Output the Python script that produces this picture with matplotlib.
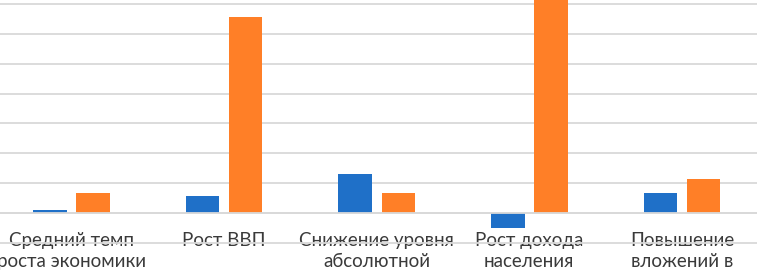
import numpy as np
import matplotlib
matplotlib.use('Agg')
import matplotlib.pyplot as plt

plt.rcParams['font.family'] = ['Lato', 'DejaVu Sans']

# categories (labels are cut by the crop at the bottom)
categories = ['Средний темп\nроста экономики', 'Рост ВВП',
              'Снижение уровня\nабсолютной', 'Рост дохода\nнаселения',
              'Повышение\nвложений в']
blue_vals = [0.09, 0.56, 1.30, -0.50, 0.65]
orange_vals = [0.65, 6.58, 0.68, 7.40, 1.15]

blue = '#1f70c8'
orange = '#ff7f27'
grid_col = '#d9d9d9'

x = np.arange(len(categories))
w = 0.22
off = 0.1415

fig = plt.figure(figsize=(7.57, 2.73), dpi=100)
ax = fig.add_axes([0, 0, 1, 1])

ax.bar(x - off, blue_vals, w, color=blue, zorder=2)
ax.bar(x + off, orange_vals, w, color=orange, zorder=2)

ax.set_xlim(-0.4685, 4.492)
ax.set_ylim(-2.02, 7.14)
ax.set_yticks(range(-1, 8))
ax.yaxis.grid(True, color=grid_col, lw=1.3)
ax.set_axisbelow(True)
ax.tick_params(axis='y', left=False, labelleft=False)

for s in ['left', 'right', 'top']:
    ax.spines[s].set_visible(False)
ax.spines['bottom'].set_position(('data', 0))
ax.spines['bottom'].set_color(grid_col)
ax.spines['bottom'].set_linewidth(1.3)

ax.set_xticks(x)
ax.set_xticklabels(categories, fontsize=13.5, color='#3a3a3a', linespacing=1.25)
ax.tick_params(axis='x', length=0, pad=14)

fig.savefig('out.png', dpi=100)
